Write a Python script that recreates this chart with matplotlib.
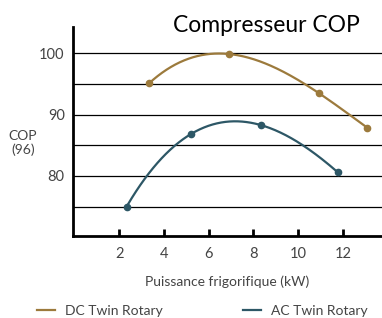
import numpy as np
import matplotlib
matplotlib.use("Agg")
import matplotlib.pyplot as plt

dc_x = [3.33, 6.9, 10.93, 13.08]
dc_y = [95.1, 99.9, 93.5, 87.9]
ac_x = [2.33, 5.19, 8.33, 11.77]
ac_y = [75.0, 86.8, 88.3, 80.6]
xticks = [2, 4, 6, 8, 10, 12]
yticks = [80, 90, 100]
ygrid = [75, 80, 85, 90, 95, 100]
dc_color = "#9c7a3c"
ac_color = "#2d5766"

plt.rcParams['font.family'] = ['Lato', 'DejaVu Sans']

fig = plt.figure(figsize=(3.82, 3.18), dpi=100)
ax = fig.add_axes([0.191, 0.258, 0.809, 0.657])

def smooth(xs, ys):
    c = np.polyfit(xs, ys, 3)
    xx = np.linspace(min(xs), max(xs), 200)
    return xx, np.polyval(c, xx)

for xs, ys, col, lab in [(dc_x, dc_y, dc_color, "DC Twin Rotary"), (ac_x, ac_y, ac_color, "AC Twin Rotary")]:
    xx, yy = smooth(xs, ys)
    ax.plot(xx, yy, color=col, lw=1.6, label=lab, zorder=3)
    ax.plot(xs, ys, 'o', color=col, ms=4.5, zorder=4)

ax.set_xlim(-0.07, 13.75)
ax.set_ylim(70.2, 104.3)
for g in ygrid:
    ax.axhline(g, color='black', lw=0.9, zorder=1)
ax.set_xticks(xticks)
ax.set_yticks(yticks)
ax.tick_params(axis='x', direction='in', length=5, width=2, colors='black', labelcolor='#444444', labelsize=10.5, pad=8)
ax.tick_params(axis='y', length=0, labelcolor='#444444', labelsize=10.5, pad=6)
for s in ['top', 'right']:
    ax.spines[s].set_visible(False)
ax.spines['left'].set_linewidth(2)
ax.spines['bottom'].set_linewidth(2)

fig.text(23/382, 1-143/318, "COP\n(96)", ha='center', va='center', fontsize=10, color='#444444', linespacing=1.1)
fig.text(227/382, 1-282/318, "Puissance frigorifique (kW)", ha='center', va='center', fontsize=10, color='#444444')
fig.text(266/382, 1-26/318, "Compresseur COP", ha='center', va='center', fontsize=16.5, color='black')

h, l = ax.get_legend_handles_labels()
fig.legend(h, l, loc='center left', bbox_to_anchor=(0.065, 1-311/318), ncol=2, frameon=False,
           fontsize=10, handlelength=1.3, columnspacing=5.8, handletextpad=0.7, labelcolor='#444444')

fig.savefig("out.png", dpi=100)
